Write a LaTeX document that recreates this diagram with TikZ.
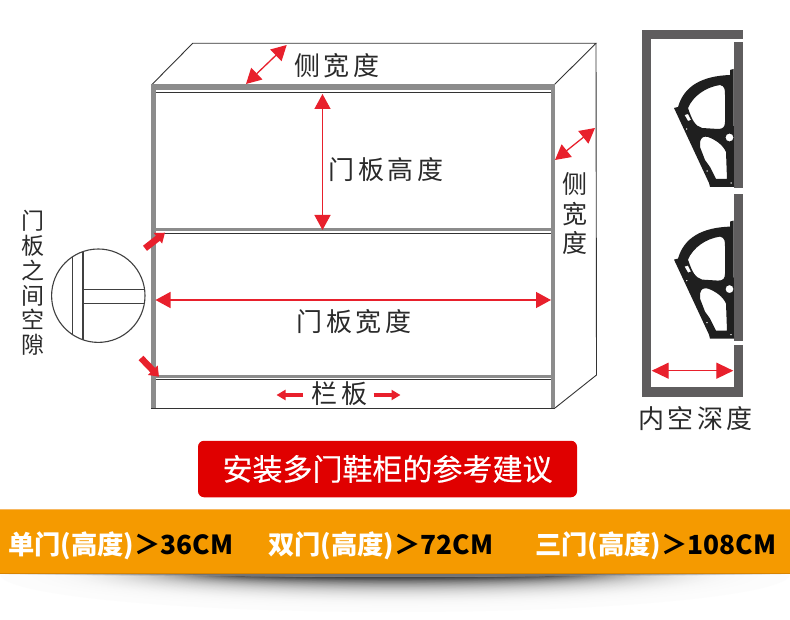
\documentclass[tikz,border=0pt]{standalone}
\usepackage{fontspec}
\setmainfont{Noto Sans CJK SC}
\newfontfamily\spacedcjk[LetterSpace=13]{Noto Sans CJK SC}
\newfontfamily\bannercjk[FakeBold=0.35]{Noto Sans CJK SC}
\usetikzlibrary{arrows.meta}
\definecolor{arrowred}{HTML}{E8202C}
\definecolor{bargray}{HTML}{8C8C8C}
\definecolor{wallgray}{HTML}{5F5D5E}
\definecolor{labelgray}{HTML}{2A2A2A}
\definecolor{bandorange}{HTML}{F59A00}
\definecolor{bandedge}{HTML}{D88400}
\definecolor{bandlight}{HTML}{F7B860}
\definecolor{bannerred}{HTML}{E00000}
\tikzset{
  x=1pt,y=-1pt,
  dimarrow/.style={draw=arrowred,line width=1.3pt,{Triangle[length=15pt,width=16pt]}-{Triangle[length=15pt,width=16pt]}},
  shortarrow/.style={draw=arrowred,line width=3.6pt,-{Triangle[length=9pt,width=10pt]}},
  blockarrow/.style={draw=arrowred,line width=6.5pt,-{Triangle[length=9pt,width=13pt]}},
  bar/.style={fill=bargray,draw=none},
  wall/.style={fill=wallgray,draw=none},
  thinline/.style={draw=black!80,line width=0.9pt},
  label/.style={font=\spacedcjk\fontsize{26}{29}\selectfont,text=labelgray,inner sep=0pt,align=center},
  stacked/.style={font=\fontsize{25}{29.5}\selectfont,text=labelgray,inner sep=0pt,align=center},
  bandtext/.style={font=\bfseries\fontsize{26.3}{30}\selectfont,inner sep=0pt,anchor=base west,text=white},
}
\newcommand{\hingeshape}[1]{%
 \begin{scope}[yshift=#1]
  \fill[black!88,even odd rule]
   (733.5,69) -- (730,70) -- (730,75) .. controls (702,76) and (684,86) .. (678,107) -- (674,108)
   -- (709,183) -- (710,187) -- (734,187) -- cycle
   (720,85) .. controls (725,86) and (725,90) .. (725,95) -- (725,122) .. controls (725,127) and (723,129) .. (718,129)
   -- (702,128) .. controls (695,126) and (692,120) .. (688,108) .. controls (693,96) and (706,87) .. (720,85) -- cycle
   (700,142) .. controls (701,137) and (704,136) .. (708,137) .. controls (716,140) and (723,145) .. (726,152)
   -- (727,179) -- (716,179) -- (710,167) -- (705,160) -- (700,147) -- cycle
   (729.5,137.5) circle[radius=4]
   (684.5,115) -- (688,114) -- (691,120) -- (688,121) -- cycle
   (686.7,129) circle[radius=1]
   (707,171) circle[radius=1]
   (731,183) circle[radius=1];
 \end{scope}}
\begin{document}
\begin{tikzpicture}
\useasboundingbox (0,0) rectangle (790,620);
\fill[white] (0,0) rectangle (790,620);

% shadow under the band
\foreach \i in {0,...,49}{
  \pgfmathsetmacro{\t}{\i/49}
  \pgfmathsetmacro{\k}{1-(0.012+0.72*\t*\t*\t)}
  \definecolor{shadetone}{gray}{\k}
  \fill[shadetone] (395,574) ellipse[x radius={395-225*\t},y radius={38-34*\t}];
}
\foreach \i in {0,...,9}{
  \pgfmathsetmacro{\k}{0.9-0.05*\i}
  \definecolor{shadetone}{gray}{\k}
  \fill[shadetone] (395,574) ellipse[x radius={390-20*\i},y radius={1.8+0.1*\i}];
}

% cabinet outline
\draw[thinline] (151.5,85) -- (192.7,43.3) -- (596,43.3) -- (554,85);
\draw[thinline] (596,43.3) -- (596.5,375) -- (555,408);

% cabinet frame
\fill[bar] (151,84.5) rectangle (555,90.5);
\fill[bar] (151,84.5) rectangle (155.7,408.5);
\fill[bar] (550.7,84.5) rectangle (555,408.5);
\draw[thinline] (151,408) -- (555,408);
\draw[thinline] (155.7,92.7) -- (550.7,92.7);
\fill[bar] (155.7,228.5) rectangle (550.7,231);
\draw[thinline] (155.7,233) -- (550.7,233);
\fill[bar] (155.7,375) rectangle (550.7,377.5);
\draw[thinline] (155.7,379.5) -- (550.7,379.5);

% dimension arrows
\coordinate (sideA) at (286.7,45);
\coordinate (sideB) at (246,84);
\draw[dimarrow] (sideA) -- (sideB);
\coordinate (heightA) at (322.5,94);
\coordinate (heightB) at (322.5,230);
\draw[dimarrow] (heightA) -- (heightB);
\coordinate (depthA) at (595,128);
\coordinate (depthB) at (555,160);
\draw[dimarrow] (depthA) -- (depthB);
\coordinate (widthA) at (155.5,300);
\coordinate (widthB) at (551,300);
\draw[dimarrow] (widthA) -- (widthB);
\coordinate (railAs) at (303,395);
\coordinate (railAe) at (276.5,395);
\draw[shortarrow] (railAs) -- (railAe);
\coordinate (railBs) at (373.5,395);
\coordinate (railBe) at (400.5,395);
\draw[shortarrow] (railBs) -- (railBe);
\coordinate (gapAs) at (145,248.3);
\coordinate (gapAe) at (165,232.7);
\draw[blockarrow] (gapAs) -- (gapAe);
\coordinate (gapBs) at (141,358);
\coordinate (gapBe) at (159,376.7);
\draw[blockarrow] (gapBs) -- (gapBe);

% detail circle
\begin{scope}
  \clip (98.3,295.7) circle[radius=46.7];
  \draw[line width=1.1pt,draw=black!75] (72.7,240) -- (72.7,350);
  \draw[line width=1.1pt,draw=black!75] (83,240) -- (83,350);
  \draw[line width=1.1pt,draw=black!75] (83,289.3) -- (150,289.3);
  \draw[line width=1.1pt,draw=black!75] (83,303.3) -- (150,303.3);
\end{scope}
\node[circle,draw=black!75,line width=1.1pt,minimum size=93.4pt,inner sep=0pt] (detail) at (98.3,295.7) {};

% section on the right
\fill[wall] (641.7,30) rectangle (742.7,39.3);
\fill[wall] (641.7,30) rectangle (650.7,396.7);
\fill[wall] (641.7,387.3) rectangle (742.7,396.7);
\fill[wall] (734,42.3) rectangle (742.7,188.3);
\fill[wall] (734,194.3) rectangle (742.7,340.7);
\fill[wall] (734,345) rectangle (742.7,396.7);
\hingeshape{0pt}
\hingeshape{-151.6pt}
\coordinate (innerA) at (651.7,370.7);
\coordinate (innerB) at (733.3,370.7);
\draw[dimarrow,{Triangle[length=17pt,width=16pt]}-{Triangle[length=17pt,width=16pt]}] (innerA) -- (innerB);

% labels
\node[label] (lblSide) at (337,65.5) {侧宽度};
\node[label] (lblHeight) at (386,169.5) {门板高度};
\node[label] (lblWidth) at (354,322) {门板宽度};
\node[label] (lblRail) at (339.5,394) {栏板};
\node[stacked] (lblDepth) at (575,214) {侧\\宽\\度};
\node[stacked,font=\fontsize{23}{24.8}\selectfont] (lblGap) at (33,283) {门\\板\\之\\间\\空\\隙};
\node[label] (lblInner) at (695.5,419) {内空深度};

% red banner
\node[fill=bannerred,rounded corners=6pt,minimum width=379pt,minimum height=56.5pt,inner sep=0pt,
      text=white,font=\bannercjk\fontsize{30}{34}\selectfont] (banner) at (387.5,469) {安装多门鞋柜的参考建议};

% orange band
\fill[bandorange] (0,509) rectangle (790,574);
\fill[bandlight] (0,509) rectangle (790,510);
\fill[bandedge] (0,573) rectangle (790,574.3);
\node[bandtext] (bandA) at (8,554) {单门(高度)\textcolor{black}{＞36CM}};
\node[bandtext] (bandB) at (268,554) {双门(高度)\textcolor{black}{＞72CM}};
\node[bandtext] (bandC) at (535,554) {三门(高度)\textcolor{black}{＞108CM}};
\end{tikzpicture}
\end{document}
